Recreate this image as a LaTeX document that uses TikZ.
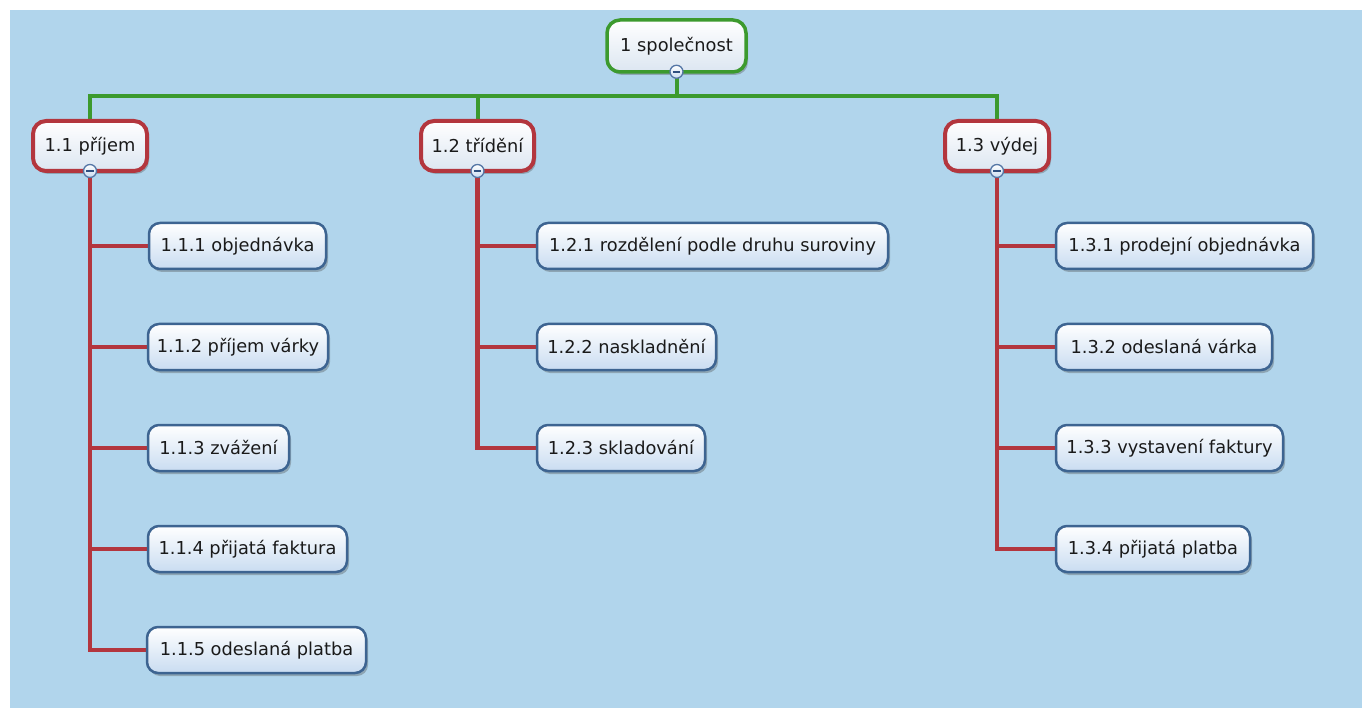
\documentclass[tikz,border=0pt]{standalone}
\usepackage{fontspec}
\setmainfont{DejaVu Sans}
\usetikzlibrary{shadows}
\definecolor{bgblue}{HTML}{B1D5EC}
\definecolor{gline}{HTML}{3C9A2E}
\definecolor{rline}{HTML}{B3363E}
\definecolor{bborder}{HTML}{3D6491}
\definecolor{leafbot}{HTML}{C9DCF1}
\definecolor{lvlbot}{HTML}{DCE6F1}
\definecolor{txt}{HTML}{1A1A1A}
\definecolor{mkborder}{HTML}{5677A6}
\definecolor{mkdark}{HTML}{2E4F80}
\pgfdeclarelayer{bg}
\pgfsetlayers{bg,main}
\tikzset{
  box/.style={rounded corners=11pt, inner sep=0pt, text=txt,
    font=\fontsize{17.8}{21}\selectfont, top color=white,
    drop shadow={shadow xshift=2pt, shadow yshift=-3pt, opacity=0.35, fill=black!70}},
  rootbox/.style={box, draw=gline, line width=3.5pt, bottom color=lvlbot, minimum height=52pt, rounded corners=13pt},
  lvlbox/.style={box, draw=rline, line width=4pt, bottom color=lvlbot, minimum height=50pt, rounded corners=13pt},
  leafbox/.style={box, draw=bborder, line width=2.5pt, bottom color=leafbot, minimum height=46pt},
  gconn/.style={draw=gline, line width=4pt},
  rconn/.style={draw=rline, line width=4.5pt},
  marker/.style={circle, draw=mkborder, line width=1.3pt, inner sep=0pt, minimum size=13pt,
    top color=white, bottom color=leafbot,
    path picture={\draw[mkdark, line width=1.8pt] ([xshift=-3.8pt]path picture bounding box.center) -- ([xshift=3.8pt]path picture bounding box.center);}}
}
\begin{document}
\begin{tikzpicture}[x=1pt, y=-1pt]
\useasboundingbox (0,0) rectangle (1362,708);
% nodes
\node[rootbox, minimum width=139pt] (root) at (676.5,46) {1 společnost};
\node[lvlbox, minimum width=114pt] (p1) at (90,146) {1.1 příjem};
\node[lvlbox, minimum width=113pt] (p2) at (477.5,146) {1.2 třídění};
\node[lvlbox, minimum width=104pt] (p3) at (997,146) {1.3 výdej};
\node[leafbox, minimum width=177pt] (c111) at (237.5,246) {1.1.1 objednávka};
\node[leafbox, minimum width=180pt] (c112) at (238,347) {1.1.2 příjem várky};
\node[leafbox, minimum width=141pt] (c113) at (218.5,448) {1.1.3 zvážení};
\node[leafbox, minimum width=199pt] (c114) at (247.5,549) {1.1.4 přijatá faktura};
\node[leafbox, minimum width=219pt] (c115) at (256.5,650) {1.1.5 odeslaná platba};
\node[leafbox, minimum width=351pt] (c121) at (712.5,246) {1.2.1 rozdělení podle druhu suroviny};
\node[leafbox, minimum width=179pt] (c122) at (626.5,347) {1.2.2 naskladnění};
\node[leafbox, minimum width=168pt] (c123) at (621,448) {1.2.3 skladování};
\node[leafbox, minimum width=257pt] (c131) at (1184.5,246) {1.3.1 prodejní objednávka};
\node[leafbox, minimum width=216pt] (c132) at (1164,347) {1.3.2 odeslaná várka};
\node[leafbox, minimum width=227pt] (c133) at (1169.5,448) {1.3.3 vystavení faktury};
\node[leafbox, minimum width=194pt] (c134) at (1153,549) {1.3.4 přijatá platba};
\coordinate (bus) at (676.5,96);
% connectors
\begin{pgfonlayer}{bg}
\fill[white] (0,0) rectangle (1362,708);
\fill[bgblue] (10,10) rectangle (1362,708);
\draw[gconn] (root.south) -- (root.south |- bus);
\draw[gconn] (p1.north) -- (p1.north |- bus) -- (p3.north |- bus) -- (p3.north);
\draw[gconn] (p2.north) -- (p2.north |- bus);
\draw[rconn] (p1.south) -- (p1.south |- c115.west) -- (c115.west);
\foreach \c in {c111,c112,c113,c114} \draw[rconn] (p1.south |- \c.west) -- (\c.west);
\draw[rconn] (p2.south) -- (p2.south |- c123.west) -- (c123.west);
\foreach \c in {c121,c122} \draw[rconn] (p2.south |- \c.west) -- (\c.west);
\draw[rconn] (p3.south) -- (p3.south |- c134.west) -- (c134.west);
\foreach \c in {c131,c132,c133} \draw[rconn] (p3.south |- \c.west) -- (\c.west);
\end{pgfonlayer}
% collapse markers
\foreach \n in {root,p1,p2,p3} \node[marker] (m\n) at ([yshift=2pt]\n.south) {};
\end{tikzpicture}
\end{document}
